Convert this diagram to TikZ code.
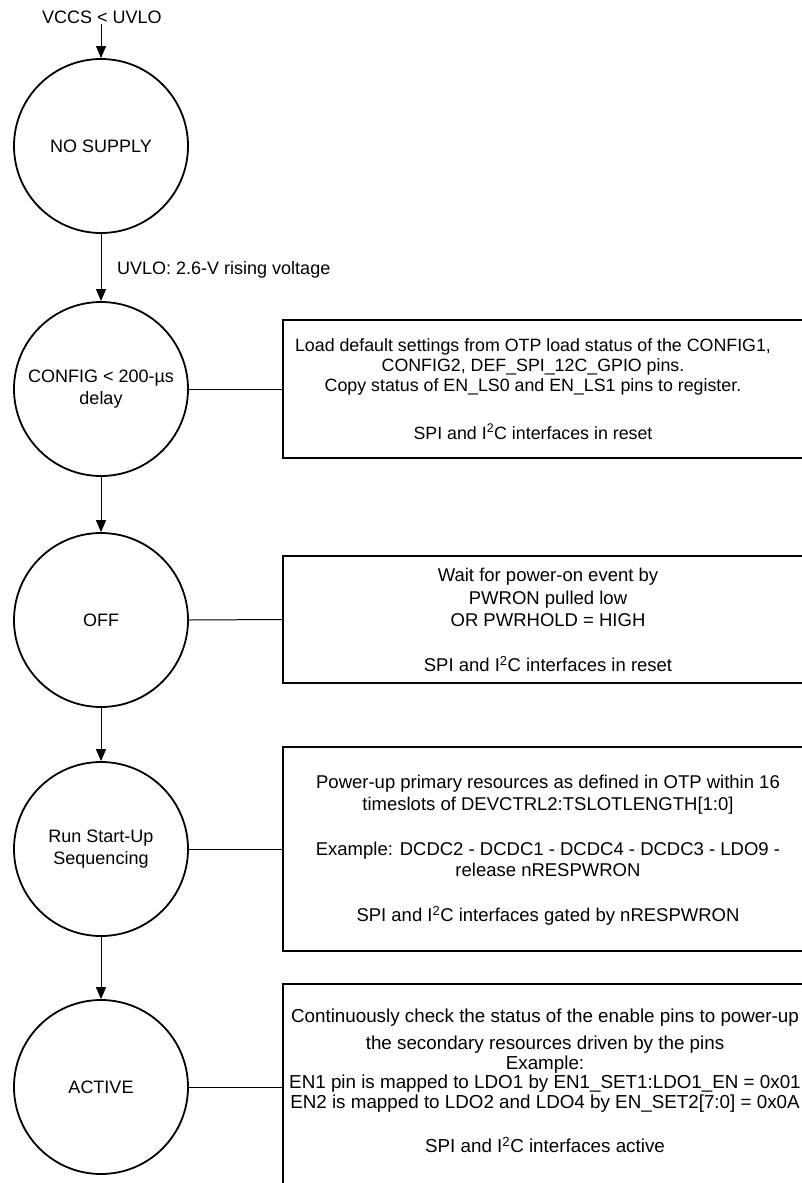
\documentclass[tikz,border=0pt]{standalone}
\usepackage{fontspec}
\setmainfont{Liberation Sans}
\usetikzlibrary{arrows.meta}
\begin{document}
\begin{tikzpicture}[x=1pt,y=-1pt,
  state/.style={circle,draw,line width=1.8pt,minimum size=174pt,inner sep=0pt,align=center,font=\fontsize{18}{22}\selectfont},
  infobox/.style={draw,line width=1.8pt,rectangle,inner sep=0pt},
  info/.style={align=center,inner sep=0pt,anchor=north},
  flow/.style={line width=1pt,-{Triangle[width=10pt,length=12pt]}},
  link/.style={line width=1pt},
  lbl/.style={font=\fontsize{18}{22}\selectfont,inner sep=0pt}]
\useasboundingbox (0,0) rectangle (801,1183);

% states
\node[lbl] (vccs) at (102,17) {VCCS < UVLO};
\node[state] (s1) at (101,146) {NO SUPPLY};
\node[state] (s2) at (101,389) {CONFIG < 200-µs\\delay};
\node[state] (s3) at (101,620) {OFF};
\node[state] (s4) at (101,849) {Run Start-Up\\Sequencing};
\node[state] (s5) at (101,1087) {ACTIVE};

% flow arrows
\draw[flow] (vccs.south -| s1.north) -- (s1.north);
\draw[flow] (s1.south) -- (s2.north);
\node[lbl,anchor=west] (uv) at (117,270) {UVLO: 2.6-V rising voltage};
\draw[flow] (s2.south) -- (s3.north);
\draw[flow] (s3.south) -- (s4.north);
\draw[flow] (s4.south) -- (s5.north);

% boxes
\node[infobox,minimum width=531pt,minimum height=138pt] (b1) at (548.5,389) {};
\node[infobox,minimum width=531pt,minimum height=127pt] (b2) at (548.5,619.5) {};
\node[infobox,minimum width=531pt,minimum height=204pt] (b3) at (548.5,849) {};
\node[infobox,minimum width=531pt,minimum height=206pt] (b4) at (548.5,1087) {};

% box texts
\node[info,font=\fontsize{17.8}{20}\selectfont] (t1) at (533,338)
  {Load default settings from OTP load status of the CONFIG1,\\
   CONFIG2, DEF\_SPI\_12C\_GPIO pins.\\
   Copy status of EN\_LS0 and EN\_LS1 pins to register.\\[28pt]
   SPI and I\textsuperscript{2}C interfaces in reset};
\node[info,font=\fontsize{18.5}{22.5}\selectfont] (t2) at (548,568)
  {Wait for power-on event by\\
   PWRON pulled low\\
   OR PWRHOLD = HIGH\\[22.5pt]
   SPI and I\textsuperscript{2}C interfaces in reset};
\node[info,font=\fontsize{18.5}{21.5}\selectfont] (t3) at (548,775)
  {Power-up primary resources as defined in OTP within 16\\
   timeslots of DEVCTRL2:TSLOTLENGTH[1:0]\\[23.5pt]
   Example: DCDC2 - DCDC1 - DCDC4 - DCDC3 - LDO9 -\\
   release nRESPWRON\\[23.5pt]
   SPI and I\textsuperscript{2}C interfaces gated by nRESPWRON};
\node[info,font=\fontsize{18.8}{19.5}\selectfont] (t4) at (545,1009)
  {Continuously check the status of the enable pins to power-up\\[7.5pt]
   the secondary resources driven by the pins\\
   Example:\\
   EN1 pin is mapped to LDO1 by EN1\_SET1:LDO1\_EN = 0x01\\
   EN2 is mapped to LDO2 and LDO4 by EN\_SET2[7:0] = 0x0A\\[24.5pt]
   SPI and I\textsuperscript{2}C interfaces active};

% links to boxes
\draw[link] (s2.east) -- (b1.west);
\draw[link] (s3.east) -- (b2.west);
\draw[link] (s4.east) -- (b3.west);
\draw[link] (s5.east) -- (b4.west);
\end{tikzpicture}
\end{document}
